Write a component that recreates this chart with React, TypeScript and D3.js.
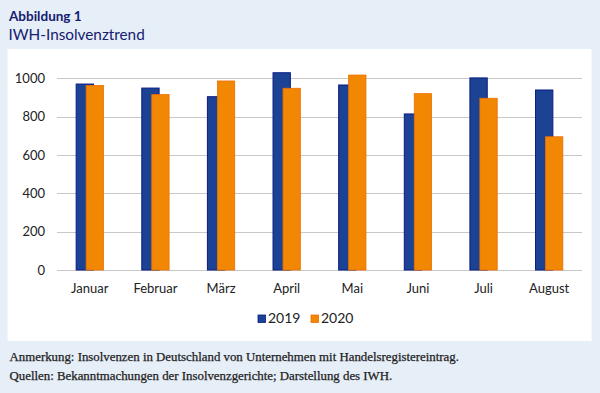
import React from "react";
import * as d3 from "d3";

const months = ["Januar", "Februar", "März", "April", "Mai", "Juni", "Juli", "August"];
const values2019 = [970, 949, 904, 1029, 965, 814, 1002, 939];
const values2020 = [963, 915, 986, 948, 1017, 920, 896, 695];
const yTicks = [0, 200, 400, 600, 800, 1000];
const seriesNames = ["2019", "2020"];
const title1 = "Abbildung 1";
const title2 = "IWH-Insolvenztrend";
const note1 = "Anmerkung: Insolvenzen in Deutschland von Unternehmen mit Handelsregistereintrag.";
const note2 = "Quellen: Bekanntmachungen der Insolvenzgerichte; Darstellung des IWH.";

const W = 600;
const H = 393;
const sans = "Lato, 'Open Sans', sans-serif";
const navy = "#15206e";
const blueFill = "#1c4393";
const blueStroke = "#0a1a86";
const orangeFill = "#f28704";
const orangeStroke = "#ea6f00";

export default function App() {
  const x = d3.scaleBand<string>().domain(months).range([57, 582]).padding(0);
  const y = d3.scaleLinear().domain([0, 1000]).range([270, 78.3]);
  const bw = x.bandwidth();
  const barW = bw * 0.264;
  const off = bw * 0.152;

  return (
    <svg
      width={W}
      height={H}
      viewBox={`0 0 ${W} ${H}`}
      style={{ position: "absolute", left: 0, top: 0, display: "block" }}
    >
      <rect x={0} y={0} width={W} height={H} fill="#e6eef8" />
      <rect x={7.5} y={49} width={584} height={292} fill="#ffffff" />
      <text x={9} y={21} fontFamily={sans} fontWeight={700} fontSize={13.5} fill={navy}>
        {title1}
      </text>
      <text x={8.5} y={39.5} fontFamily={sans} fontSize={15.3} fill={navy}>
        {title2}
      </text>

      {yTicks.map((t) => (
        <g key={t}>
          <line x1={57} x2={582} y1={Math.round(y(t)) + 0.5} y2={Math.round(y(t)) + 0.5} stroke="#c8c8c8" strokeWidth={1} />
          <text x={45} y={y(t) + 4.7} textAnchor="end" fontFamily={sans} fontSize={13} fill="#222">
            {t}
          </text>
        </g>
      ))}

      {months.map((m, i) => {
        const c = (x(m) as number) + bw / 2;
        const x0 = c - (off + barW) / 2;
        return (
          <g key={m}>
            <rect
              x={x0}
              y={y(values2019[i])}
              width={barW}
              height={y(0) - y(values2019[i])}
              fill={blueFill}
              stroke={blueStroke}
              strokeWidth={1}
            />
            <rect
              x={x0 + off}
              y={y(values2020[i])}
              width={barW}
              height={y(0) - y(values2020[i])}
              fill={orangeFill}
              stroke={orangeStroke}
              strokeWidth={0.8}
            />
            <text x={c} y={293.3} textAnchor="middle" fontFamily={sans} fontSize={13} fill="#222">
              {m}
            </text>
          </g>
        );
      })}

      <rect x={258} y={315} width={7.5} height={7.5} fill={blueFill} stroke={blueStroke} strokeWidth={0.8} />
      <text x={268} y={322.8} fontFamily={sans} fontSize={14} fill="#222">
        {seriesNames[0]}
      </text>
      <rect x={311} y={315} width={7.5} height={7.5} fill={orangeFill} stroke={orangeStroke} strokeWidth={0.8} />
      <text x={321} y={322.8} fontFamily={sans} fontSize={14} fill="#222">
        {seriesNames[1]}
      </text>

      <text x={9.5} y={360.7} fontFamily="'Liberation Serif', serif" fontSize={12.85} fill="#222" stroke="#222" strokeWidth={0.25}>
        {note1}
      </text>
      <text x={9.5} y={379.5} fontFamily="'Liberation Serif', serif" fontSize={12.85} fill="#222" stroke="#222" strokeWidth={0.25}>
        {note2}
      </text>
    </svg>
  );
}
